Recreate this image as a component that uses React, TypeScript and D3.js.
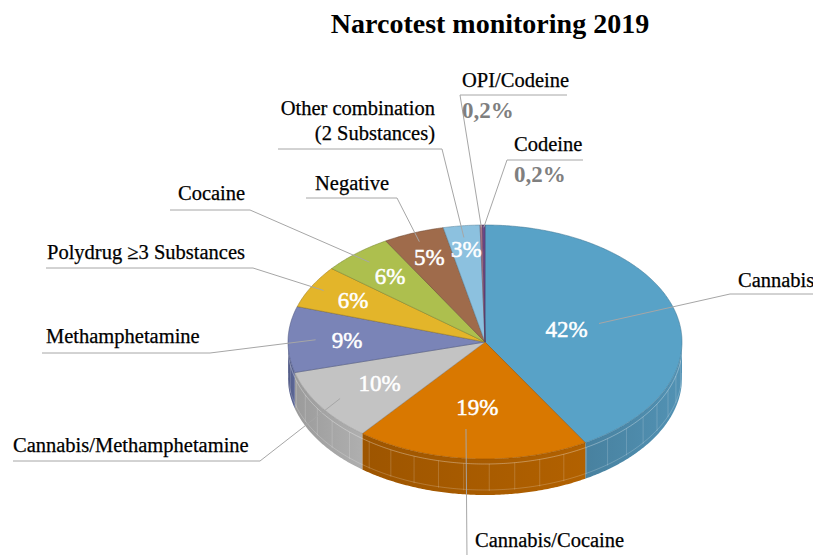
import React from 'react';
import * as d3 from 'd3';

const categories = [
  'Cannabis',
  'Cannabis/Cocaine',
  'Cannabis/Methamphetamine',
  'Methamphetamine',
  'Polydrug ≥3 Substances',
  'Cocaine',
  'Negative',
  'Other combination (2 Substances)',
  'OPI/Codeine',
  'Codeine',
];
const shares = [41.5, 19.2, 10.1, 9.1, 5.9, 5.8, 5.0, 3.0, 0.2, 0.2];
const labelLines = [
  ['Cannabis'],
  ['Cannabis/Cocaine'],
  ['Cannabis/Methamphetamine'],
  ['Methamphetamine'],
  ['Polydrug ≥3 Substances'],
  ['Cocaine'],
  ['Negative'],
  ['Other combination', '(2 Substances)'],
  ['OPI/Codeine'],
  ['Codeine'],
];
const topColors = ['#58A2C7', '#D97800', '#C3C3C3', '#7A84B7', '#E3B52A', '#ADBF4E', '#9F6B4B', '#8CC1DF', '#A87488', '#6E4B8C'];
const sideColors = ['#4C88A8', '#A65A00', '#A3A3A3', '#56608D', '#B08A1E', '#86953A', '#7A5038', '#6B98B2', '#835A6A', '#533769'];
const title = 'Narcotest monitoring 2019';

// layout (positions only)
const W = 813, H = 555;
const cx = 485, cy = 342, rx = 197, ry = 117, depth = 36;
const pctR = [0.43, 0.56, 0.64, 0.7, 0.76, 0.74, 0.78, 0.8, null, null];
const anchorR = [0.6, 0.75, 0.88, 0.86, 0.93, 0.9, 0.92, 0.9, 0.98, 0.98];
const anchorShift = [0, 0.06, 0, 0, 0, 0, 0, 0, 0, 0];
const elbows: [number, number][] = [[730, 294], [467, 558], [260, 461], [210, 353], [253, 268], [250, 210], [397, 198], [442, 149], [460, 95], [507, 160]];
const lineEnds = [813, 640, 13, 42, 46, 170, 306, 278, 567, 583];
const textPos: [number, number, string][] = [[738, 287, 'start'], [475, 547, 'start'], [13, 452, 'start'], [46, 343, 'start'], [47, 259, 'start'], [178, 200, 'start'], [315, 190, 'start'], [435, 115, 'end'], [462, 87, 'start'], [514, 151, 'start']];
const FONT = '"Liberation Serif", "Times New Roman", serif';

const fmt = (v: number) => (v < 1 ? v.toFixed(1).replace('.', ',') + '%' : Math.round(v) + '%');

const pt = (a: number, f: number, dy = 0): [number, number] => [cx + f * rx * Math.sin(a), cy - f * ry * Math.cos(a) + dy];

const sample = (a0: number, a1: number, f = 1, dy = 0) => {
  const n = Math.max(2, Math.ceil(Math.abs(a1 - a0) / 0.01));
  return d3.range(n + 1).map((i) => pt(a0 + ((a1 - a0) * i) / n, f, dy));
};

const line = d3.line<[number, number]>();

export default function App() {
  const arcs = d3.pie<number>().sort(null).value((d) => d).startAngle(0).endAngle(2 * Math.PI)(shares);
  const front0 = Math.PI / 2, front1 = (3 * Math.PI) / 2;

  const sides = arcs.map((a, i) => {
    const s = Math.max(a.startAngle, front0);
    const e = Math.min(a.endAngle, front1);
    if (e <= s) return null;
    const top = sample(s, e);
    const bottom = sample(e, s, 1, depth);
    const d = line([...top, ...bottom])! + 'Z';
    const grid: string[] = [];
    const step = 0.13;
    for (let t = Math.ceil(s / step) * step; t < e; t += step) {
      const p = pt(t, 1);
      grid.push(`M${p[0]},${p[1] + 5}L${p[0]},${p[1] + depth - 4}`);
    }
    const h1 = line(sample(s, e, 1, 5))!;
    const h2 = line(sample(s, e, 1, depth - 5))!;
    return { i, d, grid, h1, h2 };
  });

  const tops = arcs.map((a, i) => {
    const pts = [[cx, cy] as [number, number], ...sample(a.startAngle, a.endAngle)];
    return { i, d: line(pts)! + 'Z' };
  });

  return (
    <svg width={W} height={H} style={{ position: 'absolute', left: 0, top: 0, background: '#fff' }} fontFamily={FONT}>
      <defs>
        {sideColors.map((c, i) => (
          <linearGradient key={i} id={`sg${i}`} x1="0" x2="1" y1="0" y2="0">
            <stop offset="0" stopColor={d3.color(c)!.darker(0.15).formatHex()} />
            <stop offset="1" stopColor={d3.color(c)!.brighter(0.2).formatHex()} />
          </linearGradient>
        ))}
      </defs>
      <text x={490} y={33} textAnchor="middle" fontSize={28} fontWeight="bold" fill="#000">{title}</text>

      {sides.map((s) =>
        s ? (
          <g key={`s${s.i}`}>
            <path d={s.d} fill={`url(#sg${s.i})`} />
            <path d={s.grid.join('')} stroke="#fff" strokeOpacity={0.22} strokeWidth={0.8} fill="none" />
            <path d={s.h1} stroke="#fff" strokeOpacity={0.4} strokeWidth={0.8} fill="none" />
            <path d={s.h2} stroke="#fff" strokeOpacity={0.25} strokeWidth={0.8} fill="none" />
          </g>
        ) : null
      )}
      {tops.map((t) => (
        <path key={`t${t.i}`} d={t.d} fill={topColors[t.i]} stroke={d3.color(sideColors[t.i])!.darker(0.3).formatHex()} strokeWidth={0.8} strokeOpacity={0.7} />
      ))}

      {arcs.map((a, i) => {
        const mid = (a.startAngle + a.endAngle) / 2 + anchorShift[i];
        const anc = pt(mid, anchorR[i]);
        const el = elbows[i];
        return (
          <path key={`l${i}`} d={`M${anc[0]},${anc[1]}L${el[0]},${el[1]}L${lineEnds[i]},${el[1]}`} stroke="#A6A6A6" strokeWidth={1} fill="none" />
        );
      })}

      {arcs.map((a, i) => {
        const f = pctR[i];
        if (f == null) return null;
        const mid = (a.startAngle + a.endAngle) / 2;
        const p = pt(mid, f);
        return (
          <text key={`p${i}`} x={p[0]} y={p[1] + 8} textAnchor="middle" fontSize={23} fill="#fff" stroke="#fff" strokeWidth={0.5}>{fmt(a.data)}</text>
        );
      })}

      {categories.map((c, i) => {
        const [x, y, anchor] = textPos[i];
        return (
          <g key={`c${i}`}>
            {labelLines[i].map((ln, j) => (
              <text key={j} x={x} y={y + j * 25} textAnchor={anchor as any} fontSize={20.5} fill="#000" stroke="#000" strokeWidth={0.25}>{ln}</text>
            ))}
            {pctR[i] == null ? (
              <text x={x} y={y + 31} fontSize={23} fontWeight="bold" fill="#7F7F7F">{fmt(shares[i])}</text>
            ) : null}
          </g>
        );
      })}
    </svg>
  );
}
